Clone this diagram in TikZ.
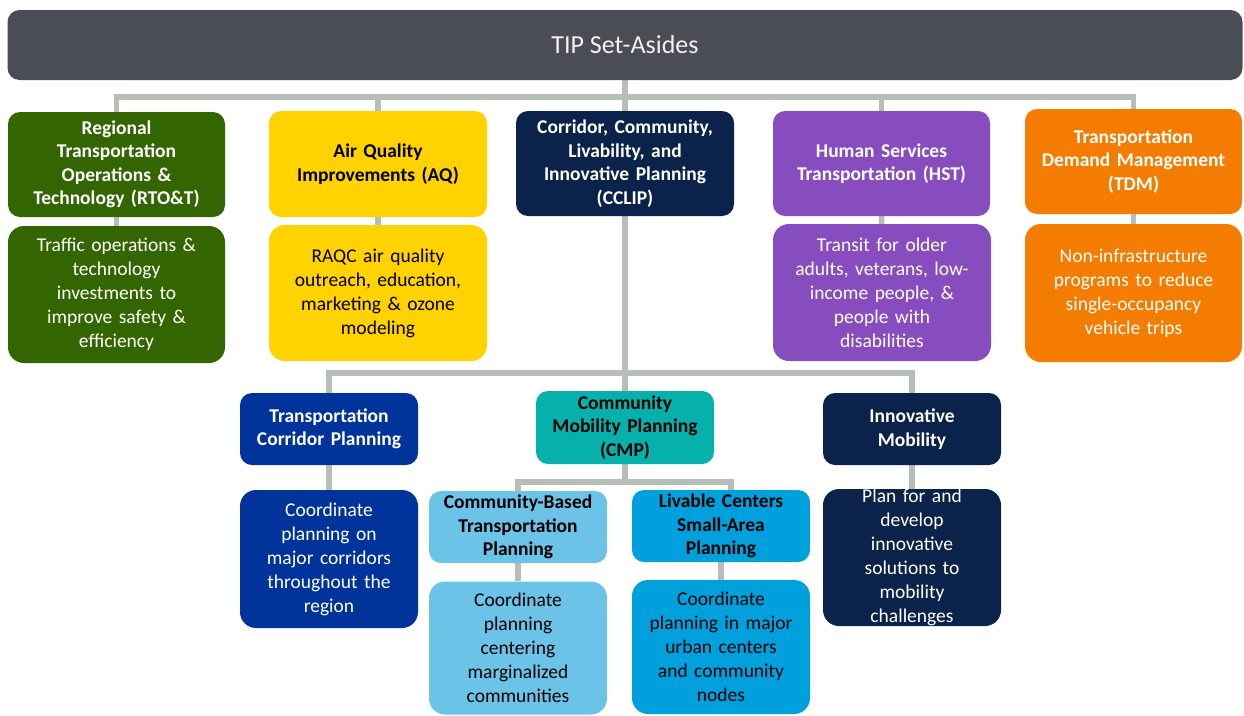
\documentclass[tikz,border=0pt]{standalone}
\usepackage{fontspec}
\setmainfont{Carlito}
\usetikzlibrary{backgrounds}

\definecolor{barGrey}{HTML}{4A4D55}
\definecolor{linkGrey}{HTML}{B7BEB8}
\definecolor{rtoGreen}{HTML}{336600}
\definecolor{aqYellow}{HTML}{FFD200}
\definecolor{ccNavy}{HTML}{0B234A}
\definecolor{hstPurple}{HTML}{874CBE}
\definecolor{tdmOrange}{HTML}{F47C00}
\definecolor{tcpBlue}{HTML}{00349A}
\definecolor{cmpTeal}{HTML}{07B0AA}
\definecolor{cbtBlue}{HTML}{6CC3E8}
\definecolor{lcsBlue}{HTML}{00A0DC}

\tikzset{
	box/.style={rectangle, inner sep=0pt, align=center, text width=205pt},
	narrow/.style={text width=170pt, minimum width=178pt},
	head/.style={box, rounded corners=12pt, font=\fontsize{19.5}{23.5}\selectfont\bfseries},
	desc/.style={box, rounded corners=16pt, font=\fontsize{19.5}{24}\selectfont},
	link/.style={draw=linkGrey, line width=5.5pt}
}

\begin{document}
\begin{tikzpicture}[x=1pt, y=-1pt]
			%%%%% START %%%%%
			\useasboundingbox (0,0) rectangle (1244,715);
			
			\node[rectangle, rounded corners=12pt, fill=barGrey, text=white!95!black, minimum width=1235pt, minimum height=70pt, font=\fontsize{26}{30}\selectfont] (tip) at (625,45) {TIP Set-Asides};
			
			% first row
			\node[head, fill=rtoGreen, text=white, minimum width=217pt, minimum height=105pt] (rto) at (116.5,164.5) {Regional\\Transportation\\Operations \&\\Technology (RTO\&T)};
			\node[head, fill=aqYellow, text=black, minimum width=218pt, minimum height=106pt] (aq) at (378,164) {Air Quality\\Improvements (AQ)};
			\node[head, fill=ccNavy, text=white, minimum width=218pt, minimum height=105pt] (ccl) at (625,163.5) {Corridor, Community,\\Livability, and\\Innovative Planning\\(CCLIP)};
			\node[head, fill=hstPurple, text=white, minimum width=217pt, minimum height=105pt] (hst) at (881.5,163.5) {Human Services\\Transportation (HST)};
			\node[head, fill=tdmOrange, text=white, minimum width=217pt, minimum height=105pt] (tdm) at (1133.5,161.5) {Transportation\\Demand Management\\(TDM)};
			
			\node[desc, fill=rtoGreen, text=white, minimum width=217pt, minimum height=137pt] (rtod) at (116.5,294.5) {Traffic operations \&\\technology\\investments to\\improve safety \&\\efficiency};
			\node[desc, fill=aqYellow, text=black, minimum width=218pt, minimum height=136pt] (aqd) at (378,293) {RAQC air quality\\outreach, education,\\marketing \& ozone\\modeling};
			\node[desc, fill=hstPurple, text=white, minimum width=218pt, minimum height=137pt] (hstd) at (882,292.5) {Transit for older\\adults, veterans, low-\\income people, \&\\people with\\disabilities};
			\node[desc, fill=tdmOrange, text=white, minimum width=217pt, minimum height=138pt] (tdmd) at (1133.5,293) {Non-infrastructure\\programs to reduce\\single-occupancy\\vehicle trips};
			
			% CCLIP branch
			\node[head, narrow, fill=tcpBlue, text=white, minimum height=72pt] (tcp) at (329,429) {Transportation\\Corridor Planning};
			\node[head, narrow, fill=cmpTeal, text=black, minimum height=73pt] (cmp) at (625,427.5) {Community\\Mobility Planning\\(CMP)};
			\node[head, narrow, fill=ccNavy, text=white, minimum height=72pt] (im) at (912,429) {Innovative\\Mobility};
			
			\node[desc, narrow, fill=tcpBlue, text=white, minimum height=138pt] (tcpd) at (329,559) {Coordinate\\planning on\\major corridors\\throughout the\\region};
			\node[desc, narrow, fill=ccNavy, text=white, minimum height=137pt] (imd) at (912,557.5) {Plan for and\\develop\\innovative\\solutions to\\mobility\\challenges};
			
			% CMP branch
			\node[head, narrow, fill=cbtBlue, text=black, minimum height=72pt] (cbt) at (518,527) {Community-Based\\Transportation\\Planning};
			\node[head, narrow, fill=lcsBlue, text=black, minimum height=72pt] (lcs) at (721,526) {Livable Centers\\Small-Area\\Planning};
			
			\node[desc, narrow, fill=cbtBlue, text=black, minimum height=133pt] (cbtd) at (518,648) {Coordinate\\planning\\centering\\marginalized\\communities};
			\node[desc, narrow, fill=lcsBlue, text=black, minimum height=134pt] (lcsd) at (721,647) {Coordinate\\planning in major\\urban centers\\and community\\nodes};
			
			\coordinate (bus) at (625,97);
			\coordinate (ccbus) at (625,373);
			\coordinate (cmbus) at (625,482);
			
			\begin{scope}[on background layer]
				\draw[link] (tip.south) -- (bus);
				\draw[link] (bus) -| (rto.north);
				\draw[link] (bus) -| (aq.north);
				\draw[link] (bus) -- (ccl.north);
				\draw[link] (bus) -| (hst.north);
				\draw[link] (bus) -| (tdm.north);
				
				\draw[link] (rto) -- (rtod);
				\draw[link] (aq) -- (aqd);
				\draw[link] (hst) -- (hstd);
				\draw[link] (tdm) -- (tdmd);
				
				\draw[link] (ccl.south) -- (ccbus);
				\draw[link] (ccbus) -| (tcp.north);
				\draw[link] (ccbus) -- (cmp.north);
				\draw[link] (ccbus) -| (im.north);
				\draw[link] (tcp) -- (tcpd);
				\draw[link] (im) -- (imd);
				
				\draw[link] (cmp.south) -- (cmbus);
				\draw[link] (cmbus) -| (cbt.north);
				\draw[link] (cmbus) -| ([xshift=10pt]lcs.north);
				\draw[link] (cbt) -- (cbtd);
				\draw[link] (lcs) -- (lcsd);
			\end{scope}
			%%%%% END %%%%%
\end{tikzpicture}
\end{document}
